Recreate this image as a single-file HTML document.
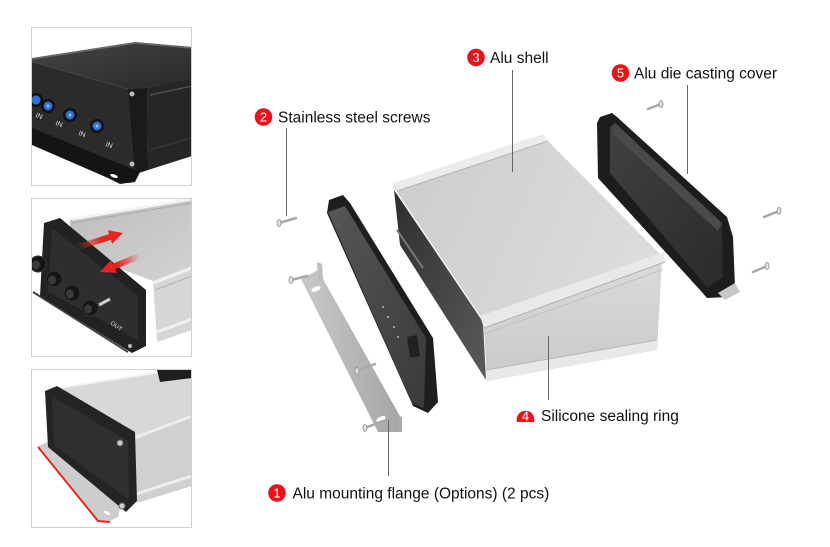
<!DOCTYPE html>
<html><head><meta charset="utf-8"><style>
html,body{margin:0;padding:0;background:#fff;}
svg{display:block;}
.lbl{font-family:"Liberation Sans",Arial,sans-serif;font-size:15.5px;fill:#111;}
.num{font-family:"Liberation Sans",Arial,sans-serif;font-size:13px;fill:#fff;text-anchor:middle;}
.in{font-family:"Liberation Sans",Arial,sans-serif;font-size:7px;fill:#ddd;}
</style></head><body>
<svg width="830" height="547" viewBox="0 0 830 547" xmlns="http://www.w3.org/2000/svg">
<defs>
<linearGradient id="shTop" gradientUnits="userSpaceOnUse" x1="393" y1="186" x2="660" y2="300"><stop offset="0" stop-color="#cdcdcd"/><stop offset="1" stop-color="#dedede"/></linearGradient>
<linearGradient id="shFront" x1="0" y1="0" x2="0" y2="1"><stop offset="0" stop-color="#dadada"/><stop offset="1" stop-color="#c9c9c9"/></linearGradient>
<linearGradient id="shIn" x1="0" y1="0" x2="1" y2="1"><stop offset="0" stop-color="#2e2e2e"/><stop offset="1" stop-color="#5a5a5a"/></linearGradient>
<linearGradient id="cvFace" x1="0" y1="0" x2="1" y2="1"><stop offset="0" stop-color="#565656"/><stop offset="1" stop-color="#3a3a3a"/></linearGradient>
<linearGradient id="rcIn" x1="0" y1="0" x2="1" y2="1"><stop offset="0" stop-color="#404040"/><stop offset="1" stop-color="#2b2b2b"/></linearGradient>
<linearGradient id="flg" x1="0" y1="0" x2="1" y2="0"><stop offset="0" stop-color="#c9c9c9"/><stop offset="1" stop-color="#a5a5a5"/></linearGradient>
<linearGradient id="dk1" x1="0" y1="0" x2="1" y2="1"><stop offset="0" stop-color="#444"/><stop offset="1" stop-color="#2a2a2a"/></linearGradient>
<linearGradient id="p2top" x1="0" y1="0" x2="1" y2="1"><stop offset="0" stop-color="#bdbdbd"/><stop offset="1" stop-color="#d2d2d2"/></linearGradient>
<linearGradient id="ar1" gradientUnits="userSpaceOnUse" x1="76" y1="247" x2="122" y2="233"><stop offset="0" stop-color="#e52420" stop-opacity="0"/><stop offset="0.55" stop-color="#e52420"/><stop offset="1" stop-color="#e52420"/></linearGradient>
<linearGradient id="ar2" gradientUnits="userSpaceOnUse" x1="140" y1="256" x2="100" y2="272"><stop offset="0" stop-color="#e52420" stop-opacity="0"/><stop offset="0.55" stop-color="#e52420"/><stop offset="1" stop-color="#e52420"/></linearGradient>
<clipPath id="c1"><rect x="32" y="28" width="159" height="157"/></clipPath>
<clipPath id="c2"><rect x="32" y="199" width="159" height="157"/></clipPath>
<clipPath id="c3"><rect x="32" y="370" width="159" height="157"/></clipPath>
<clipPath id="c4"><rect x="500" y="395" width="60" height="27"/></clipPath>
</defs>
<rect x="0" y="0" width="830" height="547" fill="#fff"/>

<!-- Photo 1 -->
<g clip-path="url(#c1)">
<polygon points="32,58 135,42 192,47 192,80 147,88 128,89 32,62" fill="url(#dk1)"/>
<polyline points="32,59 135,43 192,48" fill="none" stroke="#6a6a6a" stroke-width="1.5"/>
<polygon points="147,88 192,79 192,156 148,170" fill="#262626"/>
<line x1="150" y1="95" x2="192" y2="86" stroke="#555" stroke-width="1.2"/>
<line x1="150" y1="150" x2="192" y2="138" stroke="#3a3a3a" stroke-width="1.2"/>
<polygon points="32,62 128,89 147,88 148,170 135,174 32,132" fill="#2b2b2b"/>
<polygon points="128,89 147,88 148,170 135,174" fill="#1a1a1a"/>
<polygon points="32,128 140,172 135,182 120,184 108,178 32,145" fill="#141414"/>
<ellipse cx="114" cy="176" rx="4" ry="1.6" fill="#fff" transform="rotate(20 114 176)"/>
<g><circle cx="36" cy="100" r="7" fill="#111"/><circle cx="36" cy="100" r="4.5" fill="#2f6fd6"/>
<circle cx="48" cy="106" r="7" fill="#111"/><circle cx="48" cy="106" r="4.5" fill="#2f6fd6"/><circle cx="48" cy="106" r="1.5" fill="#9ec0f2"/>
<circle cx="70" cy="115" r="7" fill="#111"/><circle cx="70" cy="115" r="4.5" fill="#2f6fd6"/><circle cx="70" cy="115" r="1.5" fill="#9ec0f2"/>
<circle cx="97" cy="126" r="7" fill="#111"/><circle cx="97" cy="126" r="4.5" fill="#2f6fd6"/><circle cx="97" cy="126" r="1.5" fill="#9ec0f2"/></g>
<text class="in" x="35" y="117" transform="rotate(20 35 117)">IN</text>
<text class="in" x="55" y="125" transform="rotate(20 55 125)">IN</text>
<text class="in" x="78" y="135" transform="rotate(20 78 135)">IN</text>
<text class="in" x="105" y="146" transform="rotate(20 105 146)">IN</text>
<circle cx="132" cy="94" r="2.5" fill="#bbb"/><circle cx="132" cy="164" r="2.5" fill="#bbb"/>
</g>
<rect x="31.5" y="27.5" width="160" height="158" fill="none" stroke="#cfcfcf"/>

<!-- Photo 2 -->
<g clip-path="url(#c2)">
<polygon points="70,220 192,198 192,266 153,281 70,250" fill="url(#p2top)"/>
<line x1="72" y1="219" x2="192" y2="199" stroke="#f4f4f4" stroke-width="3"/>
<line x1="72" y1="223" x2="192" y2="203" stroke="#a8a8a8" stroke-width="1"/>
<polygon points="153,281 192,266 192,330 157,342" fill="#d6d6d6"/>
<line x1="153" y1="283" x2="192" y2="268" stroke="#f2f2f2" stroke-width="3"/>
<line x1="155" y1="290" x2="192" y2="276" stroke="#b0b0b0" stroke-width="1"/>
<line x1="157" y1="332" x2="192" y2="319" stroke="#f0f0f0" stroke-width="3"/>
<line x1="33" y1="292" x2="128" y2="352" stroke="#444" stroke-width="2"/>
<polygon points="44,223 60,218 146,290 146,346 132,353 40,296" fill="#222"/>
<polygon points="52,228 138,296 138,340 48,292" fill="#2e2e2e"/>
<g fill="#151515" stroke="#333">
<ellipse cx="38" cy="264" rx="8" ry="8"/><ellipse cx="54" cy="279" rx="8" ry="8"/><ellipse cx="72" cy="293" rx="8" ry="8"/><ellipse cx="90" cy="308" rx="8" ry="8"/></g>
<g fill="#3a3a3a"><ellipse cx="36" cy="265" rx="4" ry="4.5"/><ellipse cx="52" cy="280" rx="4" ry="4.5"/><ellipse cx="70" cy="294" rx="4" ry="4.5"/><ellipse cx="88" cy="309" rx="4" ry="4.5"/></g>
<line x1="99" y1="305" x2="110" y2="299" stroke="#ccc" stroke-width="3"/>
<text class="in" x="110" y="324" transform="rotate(35 110 324)" style="font-size:6px">OUT</text>
<circle cx="130" cy="346" r="2" fill="#bbb"/>
<polygon points="77.1,244.1 109.1,234.1 107.9,230.3 123,233 112.1,243.7 110.9,239.9 78.9,249.9" fill="url(#ar1)"/>
<polygon points="137.8,253.2 112.8,263.7 111.2,260.1 100,272 116.8,272.9 115.2,269.3 140.2,258.8" fill="url(#ar2)"/>
</g>
<rect x="31.5" y="198.5" width="160" height="158" fill="none" stroke="#cfcfcf"/>

<!-- Photo 3 -->
<g clip-path="url(#c3)">
<polygon points="58,388 172,370 192,367 192,413 133,436" fill="#d8d8d8"/>
<line x1="60" y1="388" x2="192" y2="367" stroke="#f2f2f2" stroke-width="2"/>
<polygon points="157,370 192,364 192,378 160,382" fill="#1e1e1e"/>
<polygon points="133,436 192,413 192,486 137,503" fill="#d0d0d0"/>
<line x1="134" y1="438" x2="192" y2="416" stroke="#eee" stroke-width="3"/>
<line x1="136" y1="494" x2="192" y2="476" stroke="#eee" stroke-width="3"/>
<polygon points="38,446 52,440 121,504 118,517 108,522 98,520" fill="#cdcdcd"/>
<polyline points="38,447 98,521 110,522" fill="none" stroke="#e32a22" stroke-width="2"/>
<polygon points="45,391 57,386 135,432 137,501 126,512 48,447" fill="#242424"/>
<polygon points="52,396 128,441 129,500 54,445" fill="#2f2f2f"/>
<circle cx="120" cy="443" r="3" fill="#ccc" stroke="#666"/>
<circle cx="122" cy="506" r="3" fill="#ccc" stroke="#666"/>
<ellipse cx="107" cy="513" rx="3.5" ry="1.5" fill="#fff" transform="rotate(30 107 513)"/>
</g>
<rect x="31.5" y="369.5" width="160" height="158" fill="none" stroke="#cfcfcf"/>

<!-- Main shell -->
<polygon points="394,190 483,322 486,380 400,245" fill="url(#shIn)"/>
<line x1="397" y1="230" x2="423" y2="268" stroke="#777" stroke-width="2"/>
<polygon points="393,186 543,136 662,256 483,320" fill="url(#shTop)"/>
<polygon points="393,183 543,134 548,141 397,191" fill="#ececec"/>
<line x1="397" y1="191" x2="548" y2="141" stroke="#b5b5b5" stroke-width="1"/>
<polygon points="484,326 662,260 657,350 487,381" fill="url(#shFront)"/>
<polygon points="480,316 664,252 665,262 484,328" fill="#e9e9e9"/>
<line x1="484" y1="328" x2="665" y2="262" stroke="#b0b0b0" stroke-width="1"/>
<line x1="484" y1="334" x2="662" y2="270" stroke="#c0c0c0" stroke-width="1"/>
<polygon points="486,370 657,340 657,350 487,381" fill="#e8e8e8"/>
<line x1="486" y1="370" x2="657" y2="340" stroke="#b8b8b8" stroke-width="1"/>

<!-- Left cover -->
<polygon points="329,200 343,195 350,203 433,338 438,402 428,413 413,406 327,213" fill="#1e1e1e"/>
<polygon points="328,212 345,206 426,338 424,408 412,403" fill="url(#cvFace)"/>
<polygon points="407,337 417,335 420,356 410,358" fill="#222"/>
<g fill="#bbb"><circle cx="383" cy="307" r="1"/><circle cx="388" cy="317" r="1"/><circle cx="394" cy="327" r="1"/><circle cx="398" cy="337" r="1"/></g>

<!-- Right cover -->
<polygon points="597,123 600,117 612,113 617,117 727,217 733,237 735,287 727,297 707,298 700,290 598,178" fill="#1d1d1d"/>
<polygon points="610,127 615,123 722,223 723,277 707,287 610,173" fill="url(#rcIn)"/>
<polygon points="615,123 722,223 718,231 612,133" fill="#4a4a4a"/>
<polygon points="718,293 735,283 740,292 725,300" fill="#c8c8c8"/>

<!-- Flange -->
<polygon points="301,279 318,270 401,418 398,432 378,432" fill="url(#flg)"/>
<polygon points="317,262 322,264 323,279 318,280" fill="#bdbdbd"/>
<polygon points="397,415 402,417 402,432 398,432" fill="#aaa"/>
<ellipse cx="316" cy="289" rx="5" ry="2.3" fill="#fff" transform="rotate(-25 316 289)"/>
<ellipse cx="381" cy="419" rx="5" ry="2.3" fill="#fff" transform="rotate(-25 381 419)"/>

<!-- Screws -->
<g stroke="#a8a8a8" stroke-width="2.5" stroke-linecap="round">
<line x1="279" y1="223" x2="296" y2="218"/><line x1="291" y1="280" x2="307" y2="276"/>
<line x1="357" y1="371" x2="375" y2="364"/><line x1="365" y1="428" x2="383" y2="421"/>
<line x1="661" y1="104" x2="648" y2="109"/><line x1="779" y1="211" x2="764" y2="217"/>
<line x1="767" y1="266" x2="753" y2="272"/></g>
<g fill="#e2e2e2" stroke="#8a8a8a" stroke-width="0.8">
<ellipse cx="279" cy="223" rx="2" ry="3.5"/><ellipse cx="291" cy="280" rx="2" ry="3.5"/>
<ellipse cx="357" cy="371" rx="2" ry="3.5"/><ellipse cx="365" cy="428" rx="2" ry="3.5"/>
<ellipse cx="661" cy="104" rx="2" ry="3.5"/><ellipse cx="779" cy="211" rx="2" ry="3.5"/>
<ellipse cx="767" cy="266" rx="2" ry="3.5"/></g>

<!-- Leader lines -->
<g stroke="#666" stroke-width="1">
<line x1="286.5" y1="128" x2="286.5" y2="216"/>
<line x1="512.5" y1="70" x2="512.5" y2="172"/>
<line x1="687.5" y1="85" x2="687.5" y2="174"/>
<line x1="548.5" y1="336" x2="548.5" y2="400"/>
<line x1="388.5" y1="420" x2="388.5" y2="476"/>
</g>

<!-- Labels -->
<circle cx="263.5" cy="117" r="8.8" fill="#e8141c"/><text class="num" x="263.5" y="121.7">2</text>
<text class="lbl" x="278" y="122.5">Stainless steel screws</text>

<circle cx="476" cy="57.5" r="8.8" fill="#e8141c"/><text class="num" x="476" y="62.2">3</text>
<text class="lbl" x="490" y="63">Alu shell</text>

<circle cx="620.5" cy="73" r="8.8" fill="#e8141c"/><text class="num" x="620.5" y="77.7">5</text>
<text class="lbl" x="634" y="78.5">Alu die casting cover</text>

<g clip-path="url(#c4)"><circle cx="525.5" cy="419.5" r="8.8" fill="#e8141c"/></g><text class="num" x="525.5" y="420.5">4</text>
<text class="lbl" x="541" y="421">Silicone sealing ring</text>

<circle cx="277" cy="493" r="8.8" fill="#e8141c"/><text class="num" x="277" y="497.7">1</text>
<text class="lbl" x="292.5" y="498.5">Alu mounting flange (Options) (2 pcs)</text>
</svg>
</body></html>
